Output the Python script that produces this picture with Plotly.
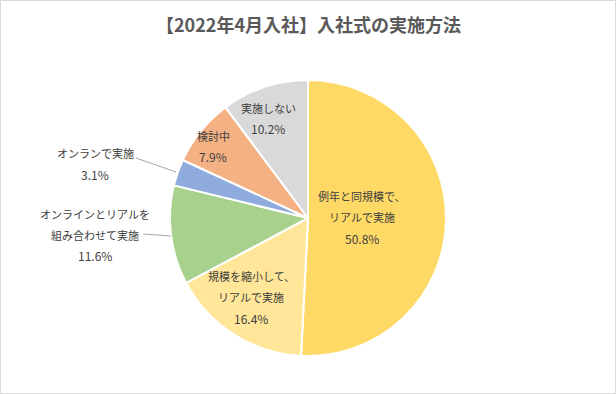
import plotly.graph_objects as go

title = "【2022年4月入社】入社式の実施方法"
labels = ["例年と同規模で、リアルで実施", "規模を縮小して、リアルで実施",
          "オンラインとリアルを組み合わせて実施", "オンランで実施", "検討中", "実施しない"]
values = [50.8, 16.4, 11.6, 3.1, 7.9, 10.2]
label_lines = [["例年と同規模で、", "リアルで実施"], ["規模を縮小して、", "リアルで実施"],
               ["オンラインとリアルを", "組み合わせて実施"], ["オンランで実施"], ["検討中"], ["実施しない"]]
colors = ["#FFD966", "#FFE699", "#A9D18E", "#8FAADC", "#F4B183", "#D9D9D9"]

W, H = 616, 394
cx, cy, r = 308, 218, 138

# label anchor positions (pixels, top-left origin) for first line
label_pos = [(362, 196), (251, 276), (95, 214), (95, 153), (213, 136), (268, 108)]
line_gap = 21

fig = go.Figure()
fig.add_trace(go.Pie(
    labels=labels, values=values, sort=False, direction="clockwise", rotation=0,
    marker=dict(colors=colors, line=dict(color="white", width=2)),
    textinfo="none", hoverinfo="label+percent", showlegend=False,
    domain=dict(x=[(cx - r) / W, (cx + r) / W], y=[(H - cy - r) / H, (H - cy + r) / H]),
))

font = dict(family="Noto Sans CJK JP", size=11, color="#404040")
pfont = dict(family="Noto Sans CJK JP", size=12, color="#404040")
anns = []
for lines, v, (x, y) in zip(label_lines, values, label_pos):
    texts = lines + [f"{v:.1f}%"]
    for i, t in enumerate(texts):
        anns.append(dict(x=x / W, y=1 - (y + i * line_gap) / H, xref="paper", yref="paper",
                         text=t, showarrow=False, font=pfont if i == len(texts) - 1 else font,
                         xanchor="center", yanchor="middle"))
anns.append(dict(x=0.5, y=1 - 24 / H, xref="paper", yref="paper", text="<b>" + title + "</b>",
                 showarrow=False, font=dict(family="Noto Sans CJK JP", size=18, color="#595959"),
                 xanchor="center", yanchor="middle"))

shapes = [
    dict(type="rect", xref="paper", yref="paper", x0=0.5 / W, y0=0.5 / H, x1=1 - 0.5 / W, y1=1 - 0.5 / H,
         line=dict(color="#D9D9D9", width=1)),
    dict(type="line", xref="paper", yref="paper", x0=136 / W, y0=1 - 158 / H, x1=176 / W, y1=1 - 172 / H,
         line=dict(color="#A6A6A6", width=1)),
    dict(type="line", xref="paper", yref="paper", x0=143 / W, y0=1 - 234 / H, x1=171 / W, y1=1 - 236 / H,
         line=dict(color="#A6A6A6", width=1)),
]

fig.update_layout(width=W, height=H, margin=dict(l=0, r=0, t=0, b=0),
                  paper_bgcolor="white", plot_bgcolor="white",
                  annotations=anns, shapes=shapes)
fig.write_html("out.html", config={"displayModeBar": False},
               post_script="document.body.style.margin='0';document.body.style.overflow='hidden';")
